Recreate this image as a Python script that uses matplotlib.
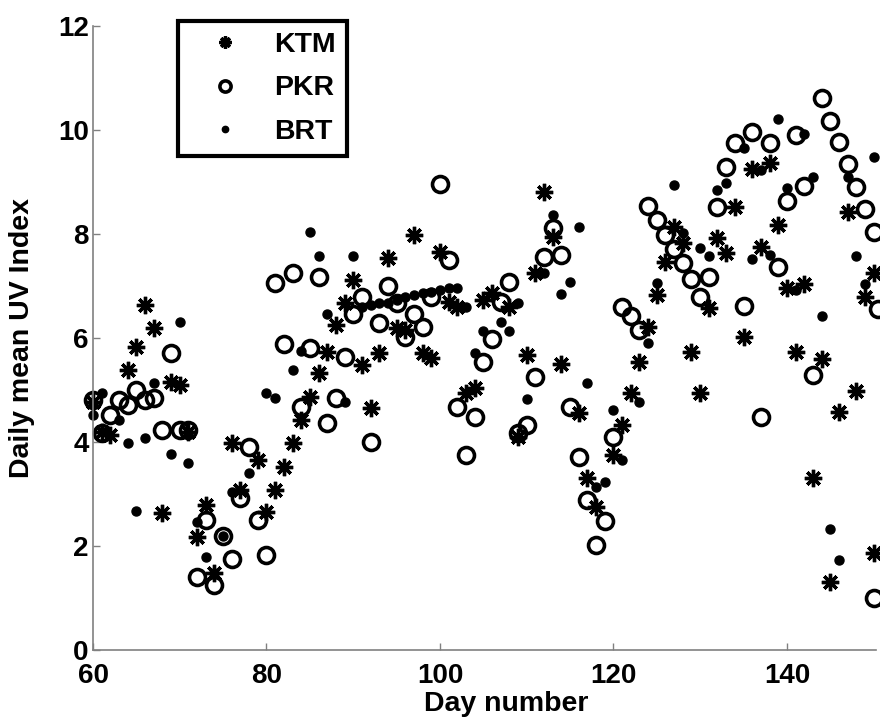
import numpy as np
import matplotlib
matplotlib.use('Agg')
import matplotlib.pyplot as plt

# daily mean UV index (day number, value)
ktm_day = [60, 61, 62, 64, 65, 66, 67, 68, 69, 70, 71, 72, 73, 74, 76, 77, 79, 80, 81, 82,
           83, 84, 85, 86, 87, 88, 89, 90, 91, 92, 93, 94, 95, 96, 97, 98, 99, 100, 101, 102,
           103, 104, 105, 106, 108, 109, 110, 111, 112, 113, 114, 116, 117, 118, 120, 121, 122, 123, 124, 125,
           126, 127, 128, 129, 130, 131, 132, 133, 134, 135, 136, 137, 138, 139, 140, 141, 142, 143, 144, 145,
           146, 147, 148, 149, 150, 150]
ktm_uv = [4.77, 4.19, 4.13, 5.38, 5.83, 6.63, 6.19, 2.63, 5.15, 5.10, 4.19, 2.17, 2.79, 1.48, 3.98, 3.08, 3.65, 2.65, 3.08, 3.52,
          3.98, 4.42, 4.87, 5.33, 5.73, 6.25, 6.67, 7.12, 5.48, 4.65, 5.71, 7.54, 6.19, 6.15, 7.98, 5.71, 5.62, 7.65, 6.69, 6.60,
          4.94, 5.04, 6.73, 6.87, 6.60, 4.10, 5.67, 7.25, 8.81, 7.94, 5.50, 4.56, 3.31, 2.75, 3.75, 4.33, 4.94, 5.54, 6.21, 6.83,
          7.46, 8.13, 7.83, 5.73, 4.94, 6.58, 7.92, 7.63, 8.52, 6.02, 9.25, 7.75, 9.37, 8.17, 6.96, 5.73, 7.04, 3.31, 5.60, 1.31,
          4.58, 8.42, 4.98, 6.79, 7.25, 1.87]

pkr_day = [60, 61, 62, 63, 64, 65, 66, 67, 68, 69, 70, 71, 72, 73, 74, 75, 76, 77, 78, 79,
           80, 81, 82, 83, 84, 85, 86, 87, 88, 89, 90, 91, 92, 93, 94, 95, 96, 97, 98, 99,
           100, 101, 102, 103, 104, 105, 106, 107, 108, 109, 110, 111, 112, 113, 114, 115, 116, 117, 118, 119,
           120, 121, 122, 123, 124, 125, 126, 127, 128, 129, 130, 131, 132, 133, 134, 135, 136, 137, 138, 139,
           140, 141, 142, 143, 144, 145, 146, 147, 148, 149, 150, 150, 150.5]
pkr_uv = [4.81, 4.17, 4.52, 4.81, 4.71, 5.00, 4.81, 4.85, 4.23, 5.71, 4.23, 4.23, 1.40, 2.50, 1.25, 2.19, 1.75, 2.92, 3.90, 2.50,
          1.83, 7.06, 5.88, 7.25, 4.67, 5.81, 7.17, 4.37, 4.85, 5.63, 6.46, 6.79, 4.00, 6.29, 7.00, 6.67, 6.02, 6.46, 6.21, 6.79,
          8.96, 7.50, 4.67, 3.75, 4.48, 5.54, 5.98, 6.69, 7.08, 4.17, 4.33, 5.25, 7.56, 8.12, 7.60, 4.67, 3.71, 2.88, 2.02, 2.48,
          4.10, 6.60, 6.42, 6.15, 8.54, 8.27, 7.98, 7.71, 7.44, 7.13, 6.79, 7.17, 8.52, 9.29, 9.75, 6.62, 9.96, 4.48, 9.75, 7.37,
          8.63, 9.90, 8.92, 5.29, 10.62, 10.17, 9.77, 9.35, 8.90, 8.48, 8.04, 1.00, 6.56]

brt_day = [60, 61, 63, 64, 65, 66, 67, 69, 70, 71, 72, 73, 74, 75, 76, 78, 80, 81, 83, 84,
           85, 86, 87, 89, 90, 91, 92, 93, 94, 95, 96, 97, 98, 99, 100, 101, 102, 103, 104, 105,
           107, 108, 109, 110, 112, 113, 114, 115, 116, 117, 118, 119, 120, 121, 123, 124, 125, 127, 128, 130,
           131, 132, 133, 135, 136, 137, 138, 139, 140, 141, 142, 143, 144, 145, 146, 147, 148, 149, 150]
brt_uv = [4.52, 4.94, 4.42, 3.98, 2.67, 4.08, 5.13, 3.77, 6.31, 3.60, 2.46, 1.79, 1.48, 2.19, 3.04, 3.40, 4.94, 4.85, 5.38, 5.75,
          8.04, 7.58, 6.46, 4.77, 7.58, 6.60, 6.63, 6.67, 6.67, 6.73, 6.79, 6.83, 6.87, 6.88, 6.92, 6.96, 6.96, 6.60, 5.71, 6.13,
          6.31, 6.13, 6.67, 4.83, 7.25, 8.37, 6.85, 7.08, 8.13, 5.13, 3.13, 3.23, 4.62, 3.65, 4.77, 5.90, 7.06, 8.94, 8.02, 7.73,
          7.58, 8.85, 8.98, 9.65, 7.52, 9.23, 7.60, 10.21, 8.88, 6.92, 9.92, 9.10, 6.42, 2.33, 1.73, 9.10, 7.58, 7.04, 9.48]

fig = plt.figure(figsize=(8.8, 7.2), dpi=100)
ax = fig.add_axes([0.1057, 0.0972, 0.89, 0.8667])

ax.plot(ktm_day, ktm_uv, linestyle='none', marker=(8, 2, 0), markersize=12.5, markeredgewidth=2.4,
        color='black', label='KTM', clip_on=False)
ax.plot(pkr_day, pkr_uv, linestyle='none', marker='o', markersize=11.5, markeredgewidth=2.6,
        markerfacecolor='none', markeredgecolor='black', label='PKR', clip_on=False)
ax.plot(brt_day, brt_uv, linestyle='none', marker='o', markersize=6.5, color='black',
        label='BRT', clip_on=False)

ax.set_xlim(60, 150.3)
ax.set_ylim(0, 12)
ax.set_xticks([60, 80, 100, 120, 140])
ax.set_yticks([0, 2, 4, 6, 8, 10, 12])
ax.tick_params(direction='in', length=5, width=1, color='#808080', labelsize=20, pad=3)
ax.tick_params(axis='x', pad=9.5)
for lab in ax.get_xticklabels() + ax.get_yticklabels():
    lab.set_fontweight('bold')
    lab.set_family('Liberation Sans')

for s in ['top', 'right']:
    ax.spines[s].set_visible(False)
for s in ['left', 'bottom']:
    ax.spines[s].set_color('#808080')
    ax.spines[s].set_linewidth(1.2)

ax.set_xlabel('Day number', fontsize=20.5, fontweight='bold', family='Liberation Sans')
ax.set_ylabel('Daily mean UV Index', fontsize=20.5, fontweight='bold', family='Liberation Sans')
ax.xaxis.set_label_coords(0.527, -0.066)
ax.yaxis.set_label_coords(-0.074, 0.5)

leg = ax.legend(loc='upper left', bbox_to_anchor=(0.108, 1.008), frameon=True, fancybox=False,
                markerscale=0.7, handlelength=2.5, handletextpad=0.5, borderpad=0.4, labelspacing=0.6,
                borderaxespad=0, prop={'family': 'Liberation Sans', 'weight': 'bold', 'size': 20.5})
leg.get_frame().set_edgecolor('black')
leg.get_frame().set_linewidth(3)
leg.get_frame().set_alpha(1)

fig.savefig('out.png', dpi=100)
